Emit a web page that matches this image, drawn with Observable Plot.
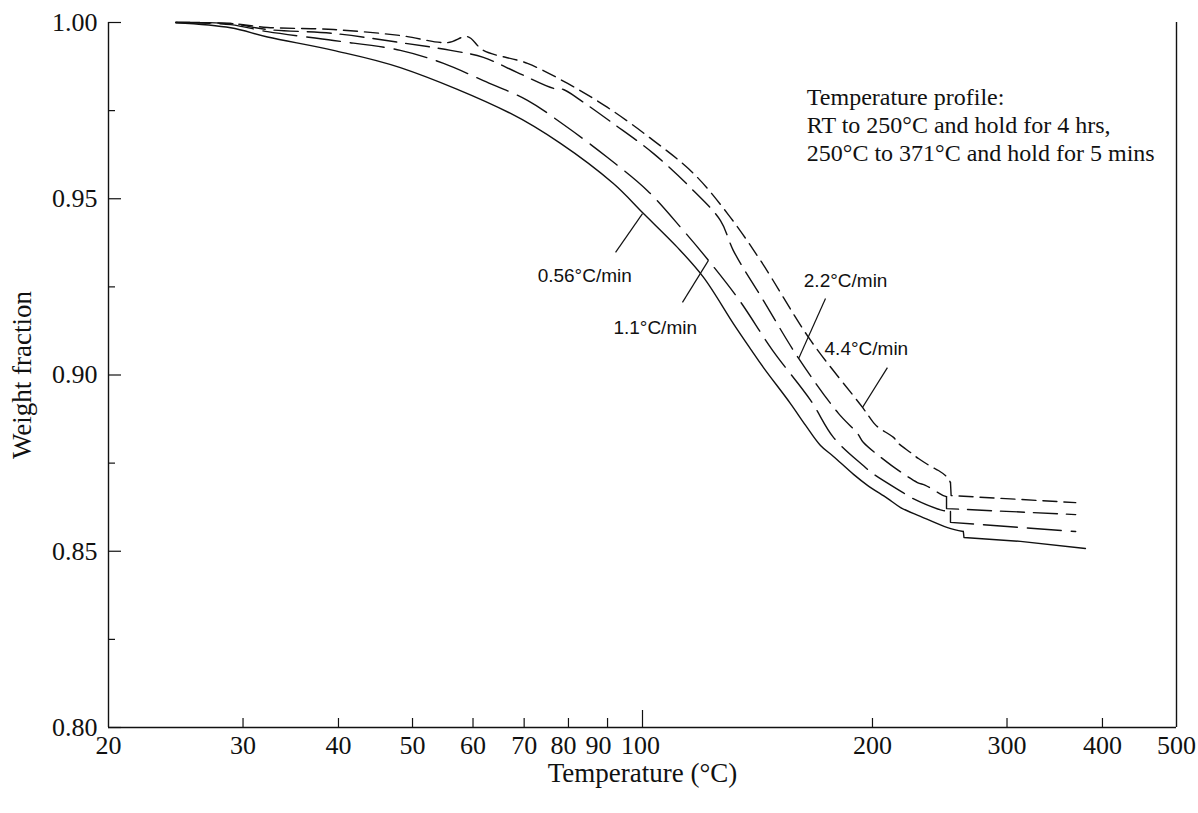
<!DOCTYPE html>
<html>
<head>
<meta charset="utf-8">
<script src="https://cdn.jsdelivr.net/npm/d3@7"></script>
<script src="https://cdn.jsdelivr.net/npm/@observablehq/plot@0.6"></script>
<style>
  html, body { margin: 0; padding: 0; background: #fff; }
  #chart { width: 1198px; height: 813px; }
</style>
</head>
<body>
<div id="chart"></div>
<script>
// ---- Data ----
// 0.56 °C/min (solid)
const temp056 = [24.5, 28.9, 32.3, 39.4, 48.2, 67.2, 78.1, 91.6, 100.3, 111.1, 120.2, 131.5, 138.9, 144.0, 156.2, 163.5, 171.0, 177.8, 188.9, 197.0, 209.2, 217.7, 231.1, 250.8, 263.0, 263.5, 312.4, 380];
const wt056   = [1.0000, 0.9985, 0.9959, 0.9921, 0.9872, 0.9742, 0.9657, 0.9543, 0.9458, 0.9362, 0.9277, 0.9146, 0.9070, 0.9021, 0.8919, 0.8857, 0.8800, 0.8769, 0.8718, 0.8687, 0.8650, 0.8624, 0.8599, 0.8567, 0.8556, 0.8539, 0.8528, 0.8508];
// 1.1 °C/min (long dash)
const temp11 = [24.5, 28.9, 32.3, 39.4, 48.2, 54.9, 61.9, 70.7, 79.8, 90.0, 101.5, 113.1, 122.0, 134.0, 148.0, 166.0, 177.8, 194.5, 200.0, 219.0, 225.6, 246.9, 253.0, 253.0, 369];
const wt11   = [1.0000, 0.9994, 0.9974, 0.9949, 0.9921, 0.9884, 0.9835, 0.9779, 0.9702, 0.9617, 0.9523, 0.9410, 0.9325, 0.9211, 0.9070, 0.8928, 0.8823, 0.8743, 0.8721, 0.8667, 0.8650, 0.8616, 0.8613, 0.8582, 0.8556];
// 2.2 °C/min (medium dash)
const temp22 = [24.5, 28.9, 32.3, 39.4, 48.2, 56.1, 61.9, 68.6, 76.5, 78.8, 83.0, 91.6, 103.4, 115.5, 126.5, 131.5, 144.0, 160.1, 180.5, 191.2, 194.5, 209.2, 214.4, 229.0, 234.6, 247.6, 250.0, 250.0, 369];
const wt22   = [1.0000, 0.9997, 0.9980, 0.9969, 0.9943, 0.9921, 0.9901, 0.9858, 0.9813, 0.9810, 0.9779, 0.9713, 0.9628, 0.9532, 0.9438, 0.9353, 0.9211, 0.9047, 0.8891, 0.8834, 0.8809, 0.8752, 0.8735, 0.8695, 0.8687, 0.8658, 0.8655, 0.8621, 0.8604];
// 4.4 °C/min (short dash)
const temp44 = [24.5, 28.9, 32.3, 39.4, 48.2, 55.6, 59.0, 61.9, 70.7, 79.8, 90.0, 103.4, 116.6, 129.2, 142.7, 166.0, 194.1, 200.6, 203.6, 213.1, 216.3, 224.3, 229.7, 239.6, 244.0, 250.0, 253.0, 253.5, 369];
const wt44   = [1.0000, 0.9997, 0.9986, 0.9980, 0.9963, 0.9943, 0.9960, 0.9921, 0.9884, 0.9827, 0.9759, 0.9665, 0.9572, 0.9458, 0.9325, 0.9098, 0.8908, 0.8865, 0.8851, 0.8823, 0.8806, 0.8780, 0.8763, 0.8738, 0.8729, 0.8712, 0.8695, 0.8658, 0.8638];

// Axis ticks
const xTickLabels = [20, 30, 40, 50, 60, 70, 200, 300, 400, 500];
const xCrowdedLabels = [80, 90, 100];
const xMinorTicks = [30, 40, 50, 60, 70, 80, 90, 200, 300, 400];
const xMajorTicks = [100];
const yTickLabels = [0.80, 0.85, 0.90, 0.95, 1.00];
const yMinorTicks = [0.825, 0.875, 0.925, 0.975];

// Curve labels and leader lines
const curveLabels = ["0.56°C/min", "1.1°C/min", "2.2°C/min", "4.4°C/min"];
const labelT = [72.9, 91.6, 162.6, 173.1];
const labelW = [0.9282, 0.9135, 0.9268, 0.9075];
const leadT1 = [92.2, 112.8, 173.6, 209.2];
const leadW1 = [0.9348, 0.9206, 0.9217, 0.9021];
const leadT2 = [100.0, 122.0, 160.1, 194.1];
const leadW2 = [0.9458, 0.9325, 0.9047, 0.8908];

// Note text
const noteLines = ["Temperature profile:", "RT to 250°C and hold for 4 hrs,", "250°C to 371°C and hold for 5 mins"];
const noteT = [164.1, 164.1, 164.1];
const noteW = [0.9787, 0.9708, 0.9630];

// ---- Build ----
const serif = "'Liberation Serif', 'Times New Roman', Times, serif";
const sans = "'Liberation Sans', Arial, Helvetica, sans-serif";
const rows = (T, W) => T.map((t, i) => ({t, w: W[i]}));
const ink = "#111";

// split a series at its vertical step (ramp end -> isothermal hold)
function seriesMarks(T, W, dash) {
  const data = rows(T, W);
  let k = data.length - 2;
  for (let i = 0; i < data.length - 1; i++) {
    if (Math.abs(data[i + 1].t - data[i].t) < 1) { k = i; break; }
  }
  const ramp = data.slice(0, k + 1);
  const hold = data.slice(k);
  const common = {x: "t", y: "w", stroke: ink, strokeWidth: 1.4, strokeDasharray: dash, strokeLinejoin: "round"};
  return [
    Plot.line(ramp, {...common, curve: "catmull-rom"}),
    Plot.line(hold, {...common, curve: "linear"})
  ];
}

const labelRows = curveLabels.map((s, i) => ({s, t: labelT[i], w: labelW[i]}));
const leadRows = curveLabels.map((s, i) => ({t1: leadT1[i], w1: leadW1[i], t2: leadT2[i], w2: leadW2[i]}));
const noteRows = noteLines.map((s, i) => ({s, t: noteT[i], w: noteW[i]}));

const xText = {tickSize: 0, tickPadding: 8, tickFormat: d => String(d), label: null, fontSize: 26, fontFamily: serif, fill: ink};
const crowdShift = [-5, -9, -2];

const chart = Plot.plot({
  width: 1198,
  height: 813,
  marginLeft: 108,
  marginRight: 22,
  marginTop: 22,
  marginBottom: 86,
  style: {fontFamily: serif, fontSize: "26px", background: "#fff", color: ink},
  x: {type: "log", domain: [20, 500], axis: null},
  y: {domain: [0.8, 1.0], axis: null},
  marks: [
    // frame
    Plot.ruleX([20], {stroke: ink, strokeWidth: 1.4}),
    Plot.ruleX([500], {stroke: ink, strokeWidth: 1.4}),
    Plot.ruleY([0.8], {stroke: ink, strokeWidth: 1.6}),
    // x ticks (inward) and labels
    Plot.axisX(xMinorTicks, {tickSize: -9, fill: "none", label: null, strokeWidth: 1.2}),
    Plot.axisX(xMajorTicks, {tickSize: -17, fill: "none", label: null, strokeWidth: 1.2}),
    Plot.axisX(xTickLabels, xText),
    ...xCrowdedLabels.map((v, i) => Plot.axisX([v], {...xText, dx: crowdShift[i]})),
    // y ticks (inward) and labels
    Plot.axisY(yTickLabels, {tickSize: -13, fill: "none", label: null, strokeWidth: 1.2}),
    Plot.axisY(yMinorTicks, {tickSize: -7, fill: "none", label: null, strokeWidth: 1.2}),
    Plot.axisY(yTickLabels, {tickSize: 0, tickPadding: 11, tickFormat: d3.format(".2f"), label: null, fontSize: 26, fontFamily: serif, fill: ink}),
    // axis titles
    Plot.text(["Temperature (°C)"], {frameAnchor: "bottom", dy: 46, lineAnchor: "middle", textAnchor: "middle", fontSize: 27, fontFamily: serif, fill: ink}),
    Plot.text(["Weight fraction"], {frameAnchor: "left", dx: -86, rotate: -90, textAnchor: "middle", lineAnchor: "middle", fontSize: 27, fontFamily: serif, fill: ink}),
    // curves
    ...seriesMarks(temp056, wt056, null),
    ...seriesMarks(temp11, wt11, "34,10"),
    ...seriesMarks(temp22, wt22, "24,9"),
    ...seriesMarks(temp44, wt44, "14,7"),
    // leaders and labels
    Plot.link(leadRows, {x1: "t1", y1: "w1", x2: "t2", y2: "w2", stroke: ink, strokeWidth: 1.2}),
    Plot.text(labelRows, {x: "t", y: "w", text: "s", textAnchor: "start", fontSize: 19, fontFamily: sans, fill: ink}),
    // note
    Plot.text(noteRows, {x: "t", y: "w", text: "s", textAnchor: "start", fontSize: 24, fontFamily: serif, fill: ink})
  ]
});
document.getElementById("chart").appendChild(chart);
</script>
</body>
</html>
